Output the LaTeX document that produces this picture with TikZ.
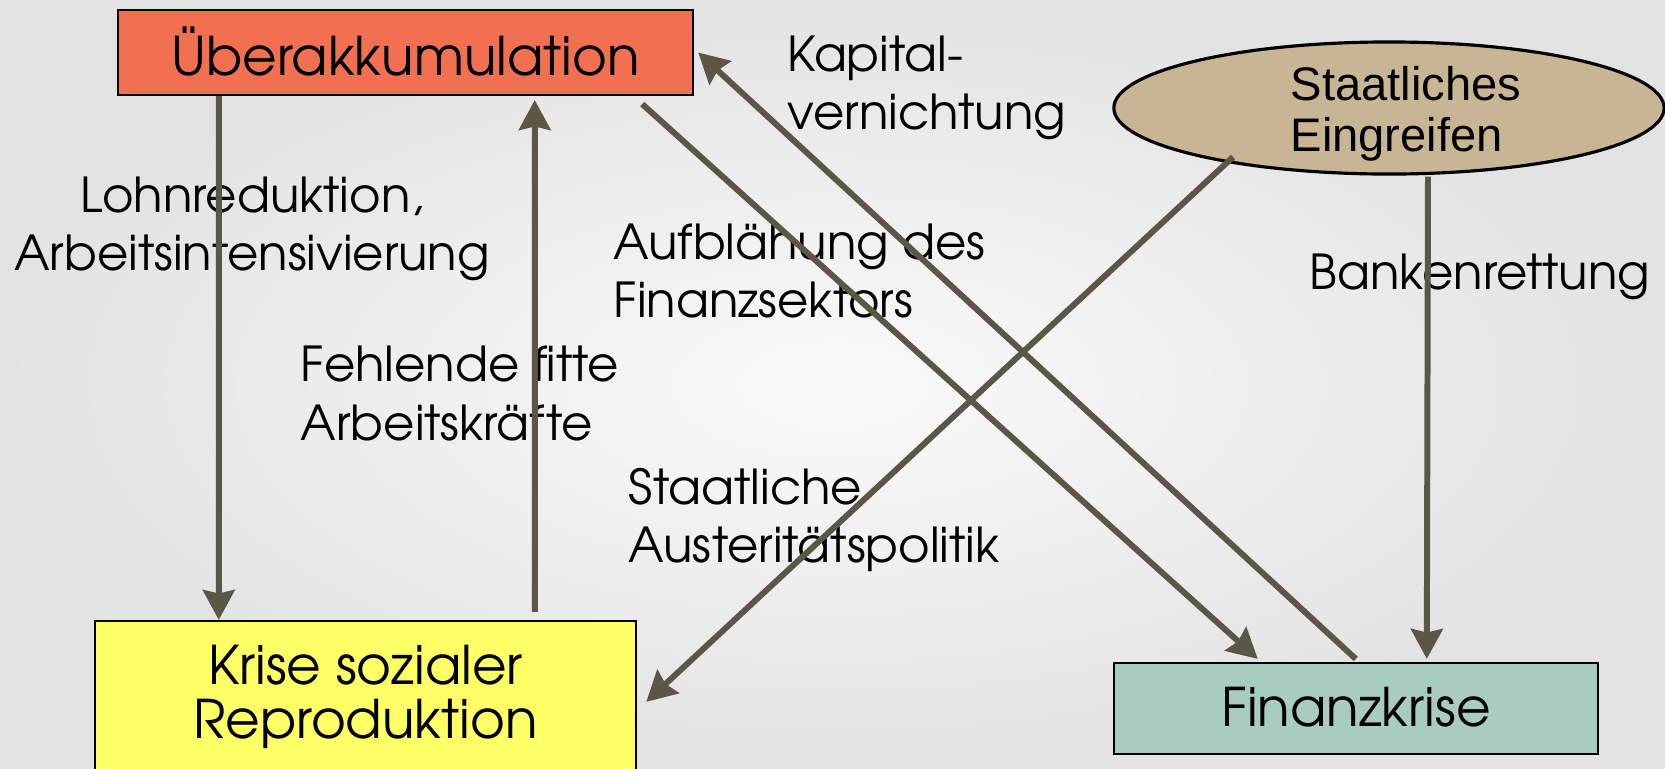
\documentclass[tikz,border=0pt]{standalone}
\usepackage{fontspec}
\setmainfont{TeX Gyre Adventor}
\newfontfamily\arialfont{Liberation Sans}
\usetikzlibrary{shapes.geometric,arrows.meta,calc}
\definecolor{arrcol}{RGB}{92,86,70}
\definecolor{uebercol}{RGB}{240,112,80}
\definecolor{krisecol}{RGB}{255,255,102}
\definecolor{finanzcol}{RGB}{168,204,190}
\definecolor{staatcol}{RGB}{200,181,147}
\definecolor{bginner}{RGB}{250,250,250}
\definecolor{bgouter}{RGB}{227,227,227}
\begin{document}
\begin{tikzpicture}[x=0.01cm,y=-0.01cm,
  arr/.style={draw=arrcol,line width=1.7pt,-{Stealth[length=8.5pt,width=9pt,inset=1pt]}},
  boxstyle/.style={draw=black,line width=0.6pt,inner sep=0pt,align=center,font=\fontsize{15.15}{17.2}\selectfont},
  lbl/.style={inner sep=0pt,font=\fontsize{13.7}{16.5}\selectfont,align=left,anchor=west}]
\useasboundingbox (0,0) rectangle (1665,769);
\shade[inner color=bginner,outer color=bgouter] (0,0) rectangle (1665,769);
% nodes
\node[boxstyle,fill=uebercol,minimum width=5.75cm,minimum height=0.85cm] (ueber) at (405.5,52.5) {\raisebox{0.9pt}{Überakkumulation}};
\node[boxstyle,fill=krisecol,minimum width=5.41cm,minimum height=1.52cm] (krise) at (365.5,697) {\raisebox{-0.9pt}{\shortstack{Krise sozialer\\[1.2pt]Reproduktion}}};
\node[boxstyle,fill=finanzcol,minimum width=4.84cm,minimum height=0.91cm] (finanz) at (1356,708.5) {\raisebox{0.9pt}{Finanzkrise}};
\node[ellipse,draw=black,line width=0.9pt,fill=staatcol,inner sep=0pt,minimum width=5.5cm,minimum height=1.32cm] (staat) at (1389,108) {};
\node[inner sep=0pt,anchor=west,align=left,font=\arialfont\fontsize{13.4}{14.5}\selectfont] (staattxt) at (1290,113.5) {Staatliches\\Eingreifen};
% labels
\node[lbl] (l1) at (787,87.5) {Kapital-\\vernichtung};
\node[lbl,anchor=center,align=center] (l2) at (252,229) {Lohnreduktion,\\Arbeitsintensivierung};
\node[lbl] (l3) at (613,271) {Aufblähung des\\Finanzsektors};
\node[lbl] (l4) at (1309,277) {Bankenrettung};
\node[lbl] (l5) at (300,393.5) {Fehlende fitte\\Arbeitskräfte};
\node[lbl] (l6) at (628,520) {Staatliche\\Austeritätspolitik};
% arrows
\draw[arr] ($(ueber.south west)+(102,0)$) -- ($(krise.north west)+(125,0)$);
\draw[arr] ($(krise.north west)+(441,-8)$) -- ($(ueber.south west)+(418,4)$);
\draw[arr] ($(ueber.south east)+(-52,8)$) -- ($(finanz.north west)+(145,-3)$);
\draw[arr] ($(finanz.north west)+(243,-3)$) -- ($(ueber.east)+(4,0)$);
\draw[arr] ($(staat.center)+(-156,49)$) -- ($(krise.north east)+(9,82)$);
\draw[arr] ($(staat.south)+(39,1)$) -- ($(finanz.north west)+(314,-3)$);
\end{tikzpicture}
\end{document}
